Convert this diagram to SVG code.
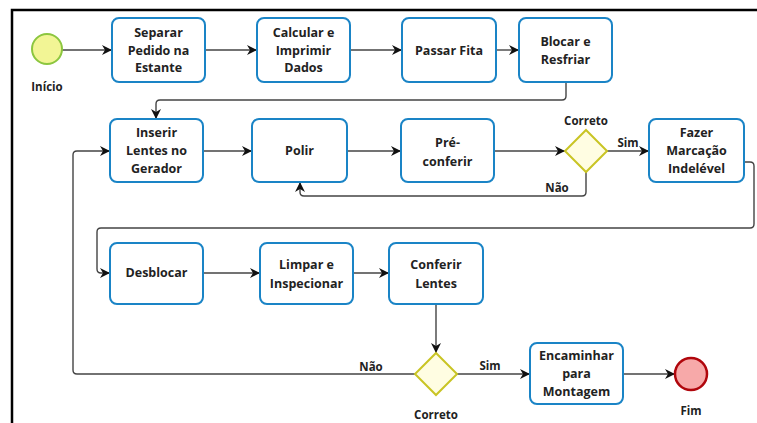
<svg xmlns="http://www.w3.org/2000/svg" width="757" height="423" viewBox="0 0 757 423">
<style>
.box{fill:#fff;stroke:#1a84c6;stroke-width:2}
.gw{fill:#fffde2;stroke:#c9c424;stroke-width:2}
.t{font-family:"Open Sans","Liberation Sans",sans-serif;font-weight:700;font-size:12.5px;fill:#222;text-anchor:middle}
.l{font-family:"Open Sans","Liberation Sans",sans-serif;font-weight:700;font-size:11.5px;fill:#222;text-anchor:middle}
.c{fill:none;stroke:#444;stroke-width:1.4;marker-end:url(#ah)}
</style>
<defs>
<marker id="ah" markerUnits="userSpaceOnUse" markerWidth="11" markerHeight="10" refX="10" refY="5" orient="auto">
<path d="M0,0 L10,5 L0,10 L3,5 z" fill="#111"/>
</marker>
</defs>
<rect width="757" height="423" fill="#fff"/>
<path d="M12,423 V10 H757" fill="none" stroke="#000" stroke-width="2.5"/>

<g id="connectors">
<path class="c" d="M62,50 H112"/>
<path class="c" d="M205,50 H257"/>
<path class="c" d="M350,50 H402"/>
<path class="c" d="M496,50 H519"/>
<path class="c" d="M566,82 V96 Q566,100 562,100 H160 Q156,100 156,104 V119"/>
<path class="c" d="M203,151 H252"/>
<path class="c" d="M347,151 H401"/>
<path class="c" d="M494,151 H565"/>
<path class="c" d="M607,151 H649"/>
<path class="c" d="M586,171 V192 Q586,196 582,196 H304 Q300,196 300,192 V182"/>
<path class="c" d="M744,162 H750 Q754,162 754,166 V224 Q754,228 750,228 H101 Q97,228 97,232 V269 Q97,273 101,273 H110"/>
<path class="c" d="M203,273 H260"/>
<path class="c" d="M353,273 H389"/>
<path class="c" d="M436,304 V353"/>
<path class="c" d="M415,374 H77 Q73,374 73,370 V155 Q73,151 77,151 H110"/>
<path class="c" d="M457,374 H530"/>
<path class="c" d="M623,374 H675"/>
<text class="l" x="628" y="147">Sim</text>
<text class="l" x="557" y="192">Não</text>
<text class="l" x="371" y="371">Não</text>
<text class="l" x="490" y="370">Sim</text>
</g>

<g id="inicio">
<circle cx="47" cy="49" r="15" fill="#f2f595" stroke="#8cc63f" stroke-width="2"/>
<text class="l" x="47" y="91">Início</text>
</g>
<g id="separar">
<rect class="box" x="112" y="18" width="93" height="64" rx="7"/>
<text class="t" x="158.5" y="37">Separar</text>
<text class="t" x="158.5" y="54.5">Pedido na</text>
<text class="t" x="158.5" y="72">Estante</text>
</g>
<g id="calcular">
<rect class="box" x="257" y="18" width="93" height="64" rx="7"/>
<text class="t" x="303.5" y="37">Calcular e</text>
<text class="t" x="303.5" y="55">Imprimir</text>
<text class="t" x="303.5" y="72">Dados</text>
</g>
<g id="passar">
<rect class="box" x="402" y="18" width="94" height="64" rx="7"/>
<text class="t" x="449" y="54.5">Passar Fita</text>
</g>
<g id="blocar">
<rect class="box" x="519" y="18" width="93" height="64" rx="7"/>
<text class="t" x="565.5" y="46">Blocar e</text>
<text class="t" x="565.5" y="64">Resfriar</text>
</g>
<g id="inserir">
<rect class="box" x="110" y="119" width="93" height="63" rx="7"/>
<text class="t" x="156.5" y="136.5">Inserir</text>
<text class="t" x="156.5" y="155">Lentes no</text>
<text class="t" x="156.5" y="172.5">Gerador</text>
</g>
<g id="polir">
<rect class="box" x="252" y="119" width="95" height="63" rx="7"/>
<text class="t" x="299.5" y="154.5">Polir</text>
</g>
<g id="preconferir">
<rect class="box" x="401" y="119" width="93" height="63" rx="7"/>
<text class="t" x="447.5" y="146.5">Pré-</text>
<text class="t" x="447.5" y="165.5">conferir</text>
</g>
<g id="gateway1">
<path class="gw" d="M586,130 L607,151 L586,172 L565,151 z"/>
<text class="l" x="586" y="125">Correto</text>
</g>
<g id="fazer">
<rect class="box" x="649" y="119" width="95" height="63" rx="7"/>
<text class="t" x="696.5" y="136.5">Fazer</text>
<text class="t" x="696.5" y="155">Marcação</text>
<text class="t" x="696.5" y="172.5">Indelével</text>
</g>
<g id="desblocar">
<rect class="box" x="110" y="243" width="93" height="61" rx="7"/>
<text class="t" x="156.5" y="276.5">Desblocar</text>
</g>
<g id="limpar">
<rect class="box" x="260" y="243" width="93" height="61" rx="7"/>
<text class="t" x="306.5" y="268.5">Limpar e</text>
<text class="t" x="306.5" y="287.5">Inspecionar</text>
</g>
<g id="conferir">
<rect class="box" x="389" y="243" width="94" height="61" rx="7"/>
<text class="t" x="436" y="268.5">Conferir</text>
<text class="t" x="436" y="287.5">Lentes</text>
</g>
<g id="gateway2">
<path class="gw" d="M436,353 L457,374 L436,395 L415,374 z"/>
<text class="l" x="436" y="419">Correto</text>
</g>
<g id="encaminhar">
<rect class="box" x="530" y="343" width="93" height="61" rx="7"/>
<text class="t" x="576.5" y="359.5">Encaminhar</text>
<text class="t" x="576.5" y="378">para</text>
<text class="t" x="576.5" y="395.5">Montagem</text>
</g>
<g id="fim">
<circle cx="691" cy="374" r="16" fill="#f7a9a9" stroke="#b0060c" stroke-width="2.5"/>
<text class="l" x="691" y="415">Fim</text>
</g>
</svg>
